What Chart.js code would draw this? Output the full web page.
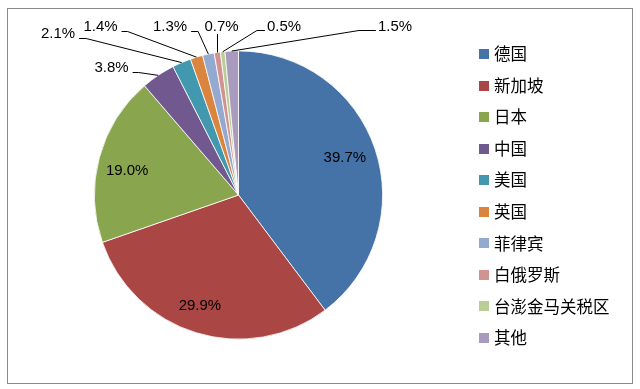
<!DOCTYPE html>
<html><head><meta charset="utf-8">
<script src="https://cdn.jsdelivr.net/npm/chart.js@4/dist/chart.umd.min.js"></script>
<style>html,body{margin:0;padding:0;background:#fff}#wrap{width:640px;height:389px;position:relative}canvas{display:block}</style>
</head><body><div id="wrap"><canvas id="c" width="640" height="389"></canvas></div>
<script>
// ---- data ----
const categories = ['德国','新加坡','日本','中国','美国','英国','菲律宾','白俄罗斯','台澎金马关税区','其他'];
const shares = [39.7, 29.9, 19.0, 3.8, 2.1, 1.4, 1.3, 0.7, 0.5, 1.5];
const valueLabels = ['39.7%','29.9%','19.0%','3.8%','2.1%','1.4%','1.3%','0.7%','0.5%','1.5%'];
const sliceColors = ['#4572A7','#AA4643','#89A54E','#71588F','#4198AF','#DB843D','#93A9CF','#D19392','#B9CD96','#A99BBD'];

// ---- layout (text placement only) ----
const insideShift = {0:[-3,-1], 1:[-5,1], 2:[0,6]};
const outsideLayout = {
  3:{x:111.5,y:68,side:'L',len:6},
  4:{x:58,y:34,side:'L',len:7},
  5:{x:100.5,y:27,side:'L',len:6},
  6:{x:170,y:27,side:'L',len:7},
  7:{x:221.5,y:27,side:'B'},
  8:{x:284,y:27,side:'R',len:8},
  9:{x:395,y:27,side:'R',len:17}
};
const labelFont = '15px "Liberation Sans", Arial, sans-serif';
const legendFont = '16.5px "Noto Sans CJK SC", sans-serif';

const decor = {
  id:'decor',
  beforeDraw(chart){
    const ctx = chart.ctx;
    ctx.save();
    ctx.fillStyle = '#fff';
    ctx.fillRect(0,0,chart.width,chart.height);
    ctx.strokeStyle = '#8a8a8a';
    ctx.lineWidth = 1;
    ctx.strokeRect(7.5,8.5,625,375);
    ctx.restore();
  },
  afterDatasetsDraw(chart){
    const ctx = chart.ctx;
    const arcs = chart.getDatasetMeta(0).data;
    ctx.save();
    ctx.font = labelFont;
    ctx.fillStyle = '#000';
    ctx.strokeStyle = '#000';
    ctx.lineWidth = 1;
    ctx.textAlign = 'center';
    ctx.textBaseline = 'middle';
    arcs.forEach((arc, i) => {
      const p = arc.getProps(['x','y','startAngle','endAngle','outerRadius'], true);
      const mid = (p.startAngle + p.endAngle) / 2;
      const txt = valueLabels[i];
      if (insideShift[i]) {
        const f = 0.8;
        const tx = p.x + Math.cos(mid) * p.outerRadius * f + insideShift[i][0];
        const ty = p.y + Math.sin(mid) * p.outerRadius * f + insideShift[i][1];
        ctx.fillText(txt, tx, ty);
        return;
      }
      const L = outsideLayout[i];
      if (!L) return;
      ctx.fillText(txt, L.x, L.y);
      const w = ctx.measureText(txt).width;
      const ex = p.x + Math.cos(mid) * p.outerRadius;
      const ey = p.y + Math.sin(mid) * p.outerRadius;
      ctx.beginPath();
      if (L.side === 'L') {
        const sx = L.x + w / 2 + 4, ly = Math.round(L.y + 4) + 0.5;
        ctx.moveTo(sx, ly); ctx.lineTo(sx + L.len, ly); ctx.lineTo(ex, ey);
      } else if (L.side === 'R') {
        const sx = L.x - w / 2 - 2, ly = Math.round(L.y + 3) + 0.5;
        ctx.moveTo(sx, ly); ctx.lineTo(sx - L.len, ly); ctx.lineTo(ex, ey);
      } else {
        const vx = Math.round(ex) + 0.5;
        ctx.moveTo(vx, L.y + 7); ctx.lineTo(vx, ey);
      }
      ctx.stroke();
    });
    // legend
    ctx.font = legendFont;
    ctx.textAlign = 'left';
    categories.forEach((name, i) => {
      const cy = 54 + i * 31.55;
      ctx.fillStyle = sliceColors[i];
      ctx.fillRect(479, Math.round(cy - 5), 10, 10);
      ctx.fillStyle = '#000';
      ctx.fillText(name, 494, cy);
    });
    ctx.restore();
  }
};

new Chart(document.getElementById('c'), {
  type: 'pie',
  data: {
    labels: categories,
    datasets: [{
      data: shares,
      backgroundColor: sliceColors,
      borderColor: '#ffffff',
      borderWidth: 0.8
    }]
  },
  options: {
    responsive: false,
    devicePixelRatio: 1,
    animation: false,
    layout: { padding: { left: 94, top: 50, right: 257, bottom: 49 } },
    plugins: { legend: { display: false }, tooltip: { enabled: false } }
  },
  plugins: [decor]
});
</script>
</body></html>
